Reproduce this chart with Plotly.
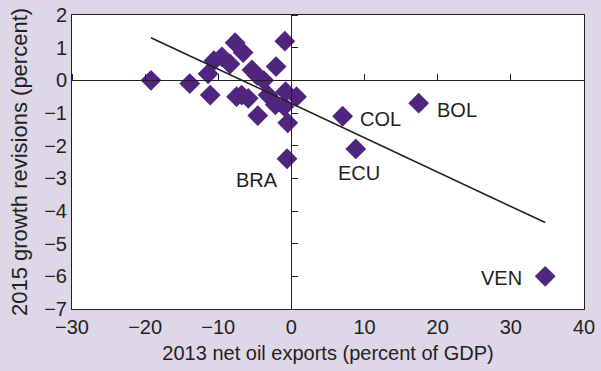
import plotly.graph_objects as go

# 2013 net oil exports (% of GDP) vs. 2015 growth revisions (pp)
net_oil_exports = [
    -19.2, -13.9, -11.1, -11.4, -10.6, -9.5, -8.4, -7.7, -6.6, -7.5,
    -5.9, -5.4, -4.7, -3.8, -4.6, -3.2, -2.1, -2.2, -0.9, -0.8,
    -0.5, -1.0, 0.7, -6.8, -0.6, 7.0, 8.8, 17.4, 34.7,
]
growth_revisions = [
    0.0, -0.1, -0.45, 0.2, 0.6, 0.72, 0.5, 1.15, 0.85, -0.5,
    -0.55, 0.32, 0.15, 0.0, -1.08, -0.45, 0.42, -0.75, 1.2, -0.35,
    -1.3, -0.8, -0.5, -0.45, -2.4, -1.1, -2.1, -0.7, -6.0,
]

# Labelled economies: (name, x, y, x-shift, y-shift)
labels = [
    ("BRA", -0.6, -2.4, -30, -21),
    ("COL", 7.0, -1.1, 38, -3),
    ("ECU", 8.8, -2.1, 3, -24),
    ("BOL", 17.4, -0.7, 38, -7),
    ("VEN", 34.7, -6.0, -44, -2),
]

# Fitted regression line: y = intercept + slope * x
fit_intercept = -0.71
fit_slope = -0.105

x_range = [-30, 40]
y_range = [-7, 2]
x_ticks = [-30, -20, -10, 0, 10, 20, 30, 40]
y_ticks = [2, 1, 0, -1, -2, -3, -4, -5, -6, -7]

purple = "#4f2580"
ink = "#231f20"
bg = "#ddd7e8"
font_family = "Liberation Sans, Arial, sans-serif"

x_lo, x_hi = min(net_oil_exports), max(net_oil_exports)
fit_x = [x_lo, x_hi]
fit_y = [fit_intercept + fit_slope * v for v in fit_x]

fig = go.Figure()

fig.add_trace(go.Scatter(
    x=net_oil_exports, y=growth_revisions, mode="markers",
    marker=dict(symbol="diamond", size=16, color=purple, line=dict(width=0)),
    hoverinfo="x+y", showlegend=False,
))

# Regression line drawn on the overlay axes that carry the zero lines
fig.add_trace(go.Scatter(
    x=fit_x, y=fit_y, mode="lines", xaxis="x2", yaxis="y2",
    line=dict(color=ink, width=1.6), showlegend=False, hoverinfo="skip",
))

for name, lx, ly, dx, dy in labels:
    fig.add_annotation(
        x=lx, y=ly, text=name, showarrow=False, xshift=dx, yshift=dy,
        font=dict(family=font_family, size=20, color=ink),
    )

axis_font = dict(family=font_family, size=20, color=ink)
ytitle_font = dict(family=font_family, size=22, color=ink)

fig.update_layout(
    width=601, height=371,
    margin=dict(l=72, r=17, t=15, b=62, autoexpand=False),
    paper_bgcolor=bg, plot_bgcolor="white",
    font=axis_font,
    xaxis=dict(
        range=x_range, tickvals=x_ticks,
        ticktext=[str(t).replace("-", "\u2212") for t in x_ticks],
        showgrid=False, zeroline=False, showline=True, mirror=True,
        linecolor=ink, linewidth=1, ticks="", automargin=False,
        tickfont=axis_font,
        title=dict(text="2013 net oil exports (percent of GDP)",
                   font=axis_font, standoff=8),
    ),
    yaxis=dict(
        range=y_range, tickvals=y_ticks,
        ticktext=[str(t).replace("-", "\u2212") for t in y_ticks],
        showgrid=False, zeroline=False, showline=True, mirror=True,
        linecolor=ink, linewidth=1, ticks="", automargin=False,
        tickfont=axis_font,
        title=dict(text="2015 growth revisions (percent)",
                   font=ytitle_font, standoff=10),
    ),
    # Axes crossing at zero, with tick marks
    xaxis2=dict(
        range=x_range, tickvals=x_ticks, overlaying="x", anchor="free",
        position=(0 - y_range[0]) / (y_range[1] - y_range[0]),
        side="top", ticks="outside", ticklen=6, tickcolor=ink,
        showticklabels=False, showgrid=False, zeroline=False,
        showline=True, linecolor=ink, linewidth=1, automargin=False,
    ),
    yaxis2=dict(
        range=y_range, tickvals=y_ticks, overlaying="y", anchor="free",
        position=(0 - x_range[0]) / (x_range[1] - x_range[0]),
        side="right", ticks="outside", ticklen=6, tickcolor=ink,
        showticklabels=False, showgrid=False, zeroline=False,
        showline=True, linecolor=ink, linewidth=1, automargin=False,
    ),
)

fig.write_html("out.html")
